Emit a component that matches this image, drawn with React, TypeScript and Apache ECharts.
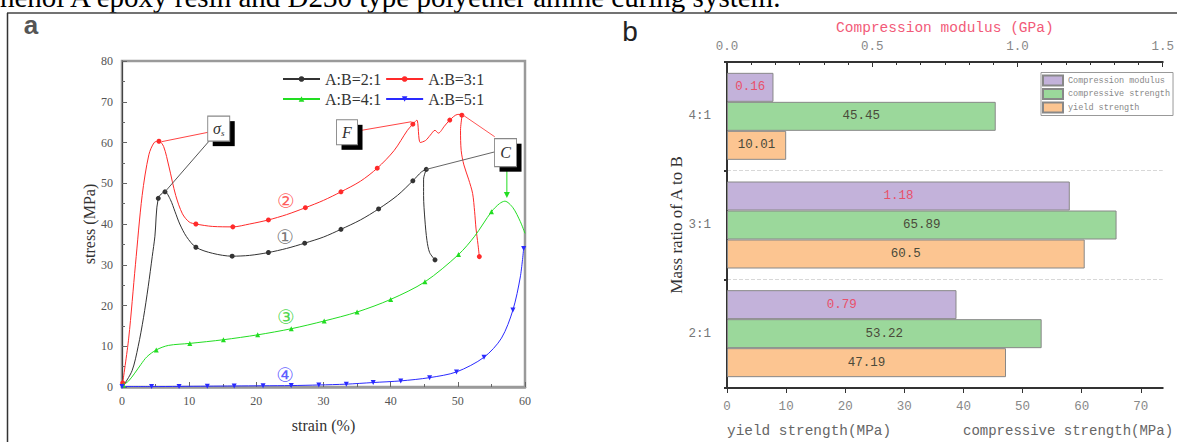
import React, { useEffect, useRef } from "react";
import * as echarts from "echarts";

// ---------- Panel a: stress-strain curves [strain %, stress MPa, marker?] ----------
const curve21: number[][] = [
  [0.2, 0.3, 0], [1.5, 4, 0], [2.4, 9.9, 0], [3.2, 17, 0], [3.9, 24.6, 0], [4.5, 32, 0], [4.9, 37, 0],
  [5.4, 46.3, 1], [6.4, 47.9, 1], [7.2, 46, 0], [7.9, 43, 0], [8.6, 40, 0], [9.6, 36.9, 0],
  [11.0, 34.3, 1], [13.5, 32.8, 0], [16.4, 32.1, 1], [19, 32.3, 0], [21.8, 33.0, 1], [24.5, 34, 0],
  [27.2, 35.3, 1], [30, 36.8, 0], [32.6, 38.7, 1], [35.5, 41, 0], [38.2, 43.7, 1], [41, 47, 0],
  [43.3, 50.6, 1], [44.6, 52.8, 0], [45.3, 53.4, 1], [44.9, 51, 0], [44.9, 47, 0], [45.1, 41, 0],
  [45.4, 36, 0], [45.8, 33, 0], [46.6, 31.2, 1],
];
const curve31: number[][] = [
  [0.1, 1.0, 1], [1.0, 12, 0], [2.0, 30, 0], [3.0, 47, 0], [4.0, 57, 0], [4.8, 60, 0], [5.5, 60.3, 1],
  [6.2, 59, 0], [7, 54, 0], [8, 47, 0], [9, 42.5, 0], [10, 40.5, 0], [11, 40, 1], [13.5, 39.4, 0],
  [16.5, 39.3, 1], [19, 40, 0], [21.8, 41, 1], [24.5, 42.3, 0], [27.3, 44, 1], [30, 45.8, 0],
  [32.6, 47.9, 1], [35.5, 50.5, 0], [38, 53.7, 1], [40.5, 58, 0], [42.5, 63, 0], [43.3, 64.5, 1],
  [43.9, 65.5, 0], [44.4, 60.0, 0], [45.2, 60.5, 0], [45.9, 61.8, 0], [46.6, 63, 0], [47.1, 62.3, 0],
  [48, 64, 0], [48.8, 65.5, 1], [50.0, 66.9, 0], [50.6, 66.7, 1], [50.4, 63, 0], [50.5, 58, 0],
  [50.9, 54.5, 0], [51.6, 51, 0], [52.2, 47.5, 0], [52.5, 43, 0], [52.7, 39, 0], [53.0, 35, 0],
  [53.2, 32, 1],
];
const curve41: number[][] = [
  [0.2, 0.5, 1], [1.0, 1.5, 0], [1.9, 3.4, 0], [2.8, 5.5, 0], [3.7, 7.4, 0], [5.1, 9.1, 1],
  [6.9, 10.2, 0], [10.1, 10.7, 1], [15.1, 11.6, 1], [20.2, 12.8, 1], [25.2, 14.3, 1], [30.1, 16.2, 1],
  [35.0, 18.4, 1], [40.0, 21.5, 1], [45.1, 25.8, 1], [50.1, 32.5, 1], [52.5, 37, 0], [55.0, 43, 1],
  [56.2, 45, 0], [57.0, 45.6, 0], [58.2, 44, 0], [59.3, 40.6, 0], [60, 37.7, 0],
];
const curve51: number[][] = [
  [0, 0.1, 1], [4.4, 0.1, 1], [8.5, 0.15, 1], [12.7, 0.2, 1], [16.7, 0.25, 1], [21.0, 0.3, 1],
  [25.2, 0.35, 1], [29.3, 0.5, 1], [33.4, 0.7, 1], [37.4, 1.1, 1], [41.5, 1.5, 1], [45.8, 2.3, 1],
  [49.8, 3.7, 1], [53.9, 7.3, 1], [56.5, 12, 0], [58.2, 18.9, 1], [59.3, 27, 0], [59.8, 34.0, 1],
];
const curveNames = ["A:B=2:1", "A:B=3:1", "A:B=4:1", "A:B=5:1"];

// annotation boxes (data coordinates)
const boxText = ["σs", "F", "C"];
const boxStrain = [14.4, 33.5, 57.1];
const boxStress = [63.4, 62.5, 57.5];
// connectors: [x1, y1, x2, y2]
const connectors: number[][] = [
  [12.8, 62.5, 5.9, 60.2],
  [13.1, 60.6, 6.4, 47.9],
  [35.0, 62.8, 43.1, 65.1],
  [55.5, 61.4, 50.8, 66.7],
  [55.5, 57.7, 45.3, 53.4],
  [57.3, 54.0, 57.3, 47.1],
];
const circledText = ["①", "②", "③", "④"];
const circledStrain = [24.3, 24.4, 24.4, 24.3];
const circledStress = [36.7, 45.7, 17.3, 2.9];

// ---------- Panel b: bars ----------
const ratios = ["2:1", "3:1", "4:1"];
const modulus = [0.79, 1.18, 0.16];
const compressive = [53.22, 65.89, 45.45];
const yieldStrength = [47.19, 60.5, 10.01];
const barNames = ["Compression modulus", "compressive strength", "yield strength"];

// ---------- styles ----------
const curveColors = ["#333333", "#ff2a2a", "#22dd22", "#2a2aff"];
const curveSymbols = ["circle", "circle", "triangle", "triangle"];
const curveRot = [0, 0, 0, 180];
const connColors = ["#ff4444", "#555555", "#ff4444", "#ff5555", "#666666", "#22dd22"];
const circledColors = ["#555555", "#ff3333", "#22cc22", "#3333ff"];
const barColors = ["#c3b2da", "#9bd89b", "#fcc591"];
const SERIF = "Liberation Serif";
const MONO = "Liberation Mono";

function curveData(pts: number[][]) {
  return pts.map(([x, y, m]) => (m ? { value: [x, y] } : { value: [x, y], symbol: "none" }));
}

export default function App() {
  const ref = useRef<HTMLDivElement>(null);
  useEffect(() => {
    const chart = echarts.init(ref.current!, null, { renderer: "svg" });
    const curves = [curve21, curve31, curve41, curve51];
    const series: any[] = [];
    curves.forEach((c, i) => {
      series.push({
        name: curveNames[i],
        type: "line",
        xAxisIndex: 0,
        yAxisIndex: 0,
        data: curveData(c),
        smooth: 0.3,
        symbol: curveSymbols[i],
        symbolRotate: curveRot[i],
        symbolSize: 5,
        showSymbol: true,
        showAllSymbol: true,
        lineStyle: { color: curveColors[i], width: 1 },
        itemStyle: { color: curveColors[i] },
        z: 2,
      });
    });
    connectors.forEach((c, i) => {
      const last = i === connectors.length - 1;
      series.push({
        name: "conn" + i,
        type: "line",
        xAxisIndex: 0,
        yAxisIndex: 0,
        data: [
          { value: [c[0], c[1]], symbol: "none" },
          last
            ? { value: [c[2], c[3]], symbol: "triangle", symbolRotate: 180, symbolSize: 6 }
            : { value: [c[2], c[3]], symbol: "none" },
        ],
        lineStyle: { color: connColors[i], width: 1 },
        itemStyle: { color: connColors[i] },
        silent: true,
        z: 3,
      });
    });
    const boxSizes = [[22, 25], [21, 25], [22, 28]];
    series.push({
      name: "boxShadow",
      type: "scatter",
      xAxisIndex: 0,
      yAxisIndex: 0,
      data: boxText.map((t, i) => ({ value: [boxStrain[i], boxStress[i]], symbolSize: boxSizes[i] })),
      symbol: "rect",
      symbolOffset: [5, 5],
      itemStyle: { color: "#000", opacity: 1 },
      silent: true,
      z: 4,
    });
    series.push({
      name: "box",
      type: "scatter",
      xAxisIndex: 0,
      yAxisIndex: 0,
      data: boxText.map((t, i) => ({ value: [boxStrain[i], boxStress[i]], symbolSize: boxSizes[i], name: t })),
      symbol: "rect",
      itemStyle: { color: "#fff", borderColor: "#888", borderWidth: 1, opacity: 1 },
      label: {
        show: true,
        position: "inside",
        formatter: (p: any) => (p.name === "σs" ? "{i|σ}{s|s}" : "{i|" + p.name + "}"),
        rich: {
          i: { fontFamily: SERIF, fontStyle: "italic", fontSize: 16, color: "#333" },
          s: { fontFamily: SERIF, fontStyle: "italic", fontSize: 9, color: "#333", verticalAlign: "bottom", padding: [8, 0, 0, 0] },
        },
      },
      silent: true,
      z: 5,
    });
    series.push({
      name: "circled",
      type: "scatter",
      xAxisIndex: 0,
      yAxisIndex: 0,
      symbolSize: 0,
      data: circledText.map((t, i) => ({
        value: [circledStrain[i], circledStress[i]],
        name: t,
        label: { color: circledColors[i] },
      })),
      label: {
        show: true,
        position: "inside",
        formatter: (p: any) => p.name,
        fontFamily: "DejaVu Sans",
        fontSize: 20,
      },
      silent: true,
      z: 5,
    });
    const barVals = [modulus, compressive, yieldStrength];
    barVals.forEach((v, i) => {
      series.push({
        name: barNames[i],
        type: "bar",
        xAxisIndex: i === 0 ? 2 : 1,
        yAxisIndex: 1,
        data: v,
        barWidth: 29,
        barGap: "0%",
        itemStyle: { color: barColors[i], borderColor: "#888", borderWidth: 1 },
        label: {
          show: true,
          position: "inside",
          fontFamily: MONO,
          fontSize: 12.5,
          color: i === 0 ? "#e8506a" : "#4a4a3a",
          formatter: (p: any) => String(p.value),
        },
      });
    });

    const option: any = {
      animation: false,
      backgroundColor: "#fff",
      grid: [
        { left: 122, top: 61, width: 403, height: 326, show: true, borderColor: "#9a9a9a", borderWidth: 2.5, backgroundColor: "transparent" },
        { left: 727, top: 62, width: 442.5, height: 326 },
      ],
      legend: [
        {
          data: curveNames,
          left: 282,
          top: 71,
          width: 205,
          itemWidth: 37,
          itemHeight: 7,
          itemGap: 4,
          padding: 0,
          selectedMode: false,
          textStyle: { fontFamily: SERIF, fontSize: 16, color: "#333" },
        },
        {
          data: barNames,
          orient: "vertical",
          left: 1041,
          top: 72.5,
          itemWidth: 20,
          itemHeight: 10,
          itemGap: 1.5,
          padding: [2, 3, 2, 1],
          borderColor: "#999",
          borderWidth: 1,
          icon: "rect",
          selectedMode: false,
          textStyle: { fontFamily: MONO, fontSize: 8.5, color: "#888" },
        },
      ],
      xAxis: [
        {
          gridIndex: 0,
          type: "value",
          min: 0,
          max: 60,
          interval: 10,
          axisLine: { show: true, lineStyle: { color: "#9a9a9a", width: 2.5 } },
          axisTick: { show: true, inside: true, length: 5, lineStyle: { color: "#666" } },
          minorTick: { show: true, splitNumber: 2, length: 3, lineStyle: { color: "#666" } },
          axisLabel: { color: "#555", fontFamily: SERIF, fontSize: 12, margin: 8 },
          splitLine: { show: false },
          name: "strain (%)",
          nameLocation: "middle",
          nameGap: 30,
          nameTextStyle: { fontFamily: SERIF, fontSize: 16, color: "#333" },
        },
        {
          gridIndex: 1,
          type: "value",
          position: "bottom",
          min: 0,
          max: 73.7,
          interval: 10,
          axisLine: { show: true, lineStyle: { color: "#333", width: 2 } },
          axisTick: { show: true, inside: false, length: 5, lineStyle: { color: "#333" } },
          axisLabel: { color: "#888", fontFamily: MONO, fontSize: 12.5, margin: 12, showMaxLabel: false },
          splitLine: { show: false },
        },
        {
          gridIndex: 1,
          type: "value",
          position: "top",
          min: 0,
          max: 1.5,
          interval: 0.5,
          axisLine: { show: true, lineStyle: { color: "#333", width: 2 } },
          axisTick: { show: true, inside: true, length: 5, lineStyle: { color: "#333" } },
          minorTick: { show: true, splitNumber: 6, length: 3, lineStyle: { color: "#333" } },
          axisLabel: { color: "#888", fontFamily: MONO, fontSize: 12.5, margin: 9, formatter: (v: number) => v.toFixed(1) },
          splitLine: { show: false },
          name: "Compression modulus (GPa)",
          nameLocation: "middle",
          nameGap: 21,
          nameTextStyle: { fontFamily: MONO, fontSize: 14.5, color: "#f25a78" },
        },
      ],
      yAxis: [
        {
          gridIndex: 0,
          type: "value",
          min: 0,
          max: 80,
          interval: 10,
          axisLine: { show: true, lineStyle: { color: "#444", width: 1 } },
          axisTick: { show: true, inside: true, length: 5, lineStyle: { color: "#666" } },
          minorTick: { show: true, splitNumber: 2, length: 3, lineStyle: { color: "#666" } },
          axisLabel: { color: "#555", fontFamily: SERIF, fontSize: 12, margin: 9 },
          splitLine: { show: false },
          name: "stress (MPa)",
          nameLocation: "middle",
          nameRotate: 90,
          nameGap: 25,
          nameTextStyle: { fontFamily: SERIF, fontSize: 16, color: "#333" },
        },
        {
          gridIndex: 1,
          type: "category",
          data: ratios,
          axisLine: { show: true, lineStyle: { color: "#333", width: 2 } },
          axisTick: { show: true, length: 3, lineStyle: { color: "#333", width: 2 } },
          axisLabel: { color: "#777", fontFamily: MONO, fontSize: 12.5, margin: 16 },
          splitLine: { show: true, lineStyle: { color: "#d8d8d8", type: "dashed" } },
          name: "Mass ratio of A to B",
          nameLocation: "middle",
          nameRotate: 90,
          nameGap: 42,
          nameTextStyle: { fontFamily: SERIF, fontSize: 17, color: "#333" },
        },
      ],
      graphic: [
        {
          type: "text",
          x: 0,
          y: -3.5,
          style: { text: "henol A epoxy resin and D230 type polyether amine curing system.", fontFamily: SERIF, fontSize: 29, fill: "#000", verticalAlign: "middle" },
        },
        { type: "line", shape: { x1: 7, y1: 13, x2: 1177, y2: 13 }, style: { stroke: "#444", lineWidth: 1.5 } },
        { type: "line", shape: { x1: 7.5, y1: 13, x2: 7.5, y2: 442 }, style: { stroke: "#333", lineWidth: 1.5 } },
        {
          type: "text",
          x: 31,
          y: 25,
          style: { text: "a", fontFamily: "Liberation Sans", fontWeight: "bold", fontSize: 26, fill: "#555", align: "center", verticalAlign: "middle" },
        },
        {
          type: "text",
          x: 630,
          y: 31,
          style: { text: "b", fontFamily: "Liberation Sans", fontSize: 28, fill: "#222", align: "center", verticalAlign: "middle" },
        },
        {
          type: "text",
          x: 727,
          y: 431,
          style: { text: "yield strength(MPa)", fontFamily: MONO, fontSize: 14.4, fill: "#666", verticalAlign: "middle" },
        },
        {
          type: "text",
          x: 963,
          y: 431,
          style: { text: "compressive strength(MPa)", fontFamily: MONO, fontSize: 14, fill: "#666", verticalAlign: "middle" },
        },
      ],
      series,
    };
    chart.setOption(option);
    return () => chart.dispose();
  }, []);
  return (
    <div
      ref={ref}
      style={{ position: "absolute", left: 0, top: 0, width: 1177, height: 442, background: "#fff" }}
    />
  );
}
